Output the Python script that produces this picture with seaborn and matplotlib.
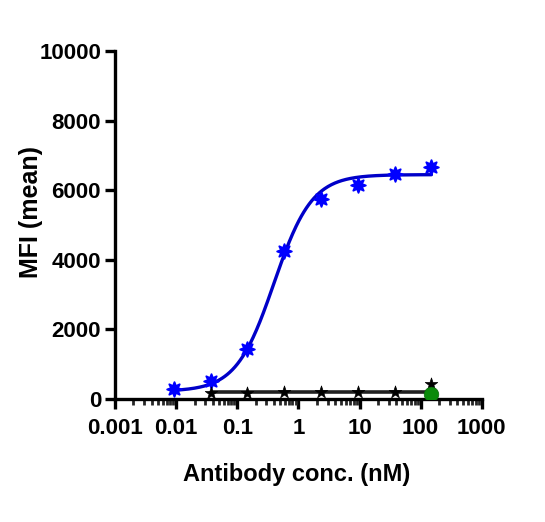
import numpy as np
import pandas as pd
import matplotlib
matplotlib.use("Agg")
import matplotlib.pyplot as plt
import seaborn as sns
from matplotlib.ticker import LogLocator, FixedLocator, NullFormatter

sns.set_style("ticks")
plt.rcParams['font.family'] = ['Liberation Sans', 'DejaVu Sans']
plt.rcParams['font.weight'] = 'bold'
plt.rcParams['text.color'] = 'black'
plt.rcParams['axes.labelcolor'] = 'black'

# ---- data ----
conc_blue = [0.00916, 0.0366, 0.146, 0.586, 2.34, 9.375, 37.5, 150]
mfi_blue = [290, 520, 1440, 4250, 5750, 6150, 6470, 6670]

conc_black = [0.0366, 0.146, 0.586, 2.34, 9.375, 37.5, 150]
mfi_black = [180, 180, 190, 200, 190, 190, 420]

conc_green = [150]
mfi_green = [150]

# 4PL fit parameters (bottom, top, EC50, hill)
fit_bottom, fit_top, fit_ec50, fit_hill = 220, 6450, 0.40, 1.4
black_fit_level = 200

x_ticks = [0.001, 0.01, 0.1, 1, 10, 100, 1000]
x_tick_labels = ["0.001", "0.01", "0.1", "1", "10", "100", "1000"]
y_ticks = [0, 2000, 4000, 6000, 8000, 10000]
y_tick_labels = ["0", "2000", "4000", "6000", "8000", "10000"]

# ---- figure ----
fig = plt.figure(figsize=(5.45, 5.22), dpi=100)
ax = fig.add_axes([0.211, 0.2356, 0.673, 0.6664])

xs = np.logspace(np.log10(conc_blue[0]), np.log10(conc_blue[-1]), 300)
ys = fit_bottom + (fit_top - fit_bottom) / (1 + (fit_ec50 / xs) ** fit_hill)
curve = pd.DataFrame({"x": xs, "y": ys})
sns.lineplot(data=curve, x="x", y="y", ax=ax, color="#0000C8", lw=2.4, zorder=3)

flat = pd.DataFrame({"x": [conc_black[0], conc_black[-1]],
                     "y": [black_fit_level, black_fit_level]})
sns.lineplot(data=flat, x="x", y="y", ax=ax, color="#202020", lw=2.6, zorder=3)

sns.scatterplot(x=conc_blue, y=mfi_blue, ax=ax, marker=(8, 1, 0), s=110,
                color="#0000FF", edgecolor="#0000FF", linewidth=1.4, zorder=4)
sns.scatterplot(x=conc_black, y=mfi_black, ax=ax, marker="*", s=90,
                color="black", edgecolor="black", linewidth=0.5, zorder=4)
sns.scatterplot(x=conc_green, y=mfi_green, ax=ax, marker="o", s=110,
                color="#0A8A0A", edgecolor="#0A6A0A", linewidth=0.5, zorder=5)

ax.set_xscale("log")
ax.set_xlim(0.001, 1000)
ax.set_ylim(0, 10000)
ax.xaxis.set_major_locator(FixedLocator(x_ticks))
ax.set_xticklabels(x_tick_labels)
ax.xaxis.set_minor_locator(LogLocator(base=10, subs=np.arange(2, 10)))
ax.xaxis.set_minor_formatter(NullFormatter())
ax.set_yticks(y_ticks)
ax.set_yticklabels(y_tick_labels)

for s in ["top", "right"]:
    ax.spines[s].set_visible(False)
for s in ["left", "bottom"]:
    ax.spines[s].set_linewidth(2.4)
    ax.spines[s].set_color("black")

ax.tick_params(axis="both", which="major", length=7, width=2.4, direction="out",
               labelsize=16, colors="black", labelcolor="black", pad=3)
ax.tick_params(axis="x", which="minor", length=4, width=2.0, direction="out")
ax.tick_params(axis="x", which="major", pad=7)

ax.set_xlabel("Antibody conc. (nM)", fontsize=17, fontweight="bold", color="black")
ax.xaxis.set_label_coords(0.496, -0.185)
ax.set_ylabel("MFI (mean)", fontsize=18, fontweight="bold", color="black")
ax.yaxis.set_label_coords(-0.195, 0.539)

fig.savefig("out.png", dpi=100)
